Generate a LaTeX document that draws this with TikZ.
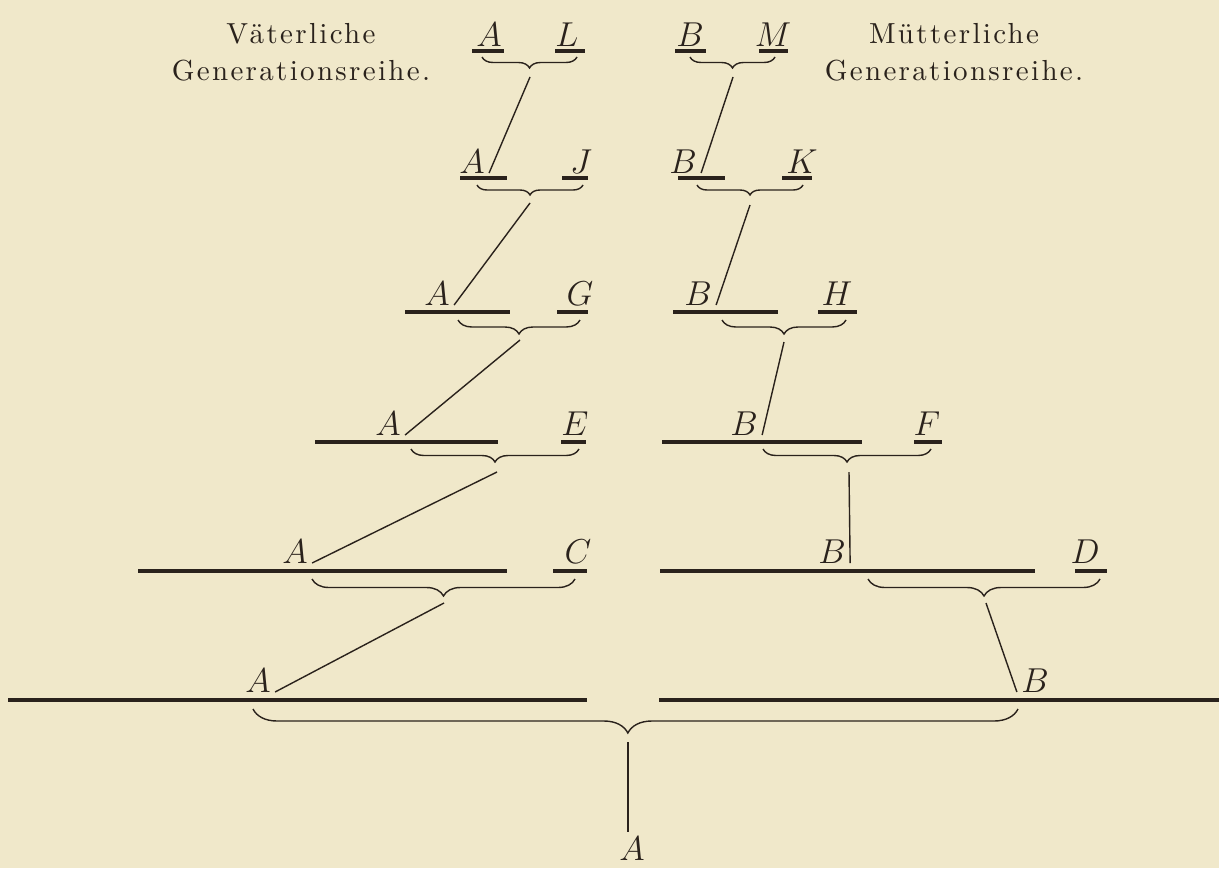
\documentclass[tikz,border=0pt]{standalone}
\usepackage{fontspec}
\usetikzlibrary{decorations.pathreplacing}
\newfontfamily\headfont[LetterSpace=8]{lmroman10-regular.otf}
\definecolor{paper}{HTML}{F0E8CA}
\definecolor{ink}{HTML}{2A221C}
\tikzset{
  letter/.style={inner sep=2pt, anchor=base, text=ink, font=\fontsize{17.5}{20}\selectfont},
  head/.style={align=center, text=ink, font=\headfont\fontsize{14.5}{18.5}\selectfont},
  bar/.style={ink, line width=2.2pt},
  brc/.style={ink, line width=0.7pt, decorate, decoration={brace, mirror, amplitude=#1}},
  link/.style={ink, line width=0.7pt}
}

\begin{document}
\begin{tikzpicture}[x=0.5pt, y=-0.5pt]
  \fill[paper] (0,0) rectangle (1219,868);
  \useasboundingbox (0,0) rectangle (1219,868);

  \node[head] (vater) at (301,52) {Väterliche\\Generationsreihe.};
  \node[head] (mutter) at (954,52) {Mütterliche\\Generationsreihe.};

  % erste Reihe
  \node[letter] (a1) at (489,46) {$A$};
  \node[letter] (l) at (567,46) {$L$};
  \node[letter] (b1) at (690,46) {$B$};
  \node[letter] (m) at (773,46) {$M$};
  \draw[bar] (472,51) -- (504,51);
  \draw[bar] (555,51) -- (585,51);
  \draw[bar] (675,51) -- (706,51);
  \draw[bar] (759,51) -- (788,51);
  \draw[brc=5.5pt] (482,57) -- (577,57);
  \draw[brc=5.5pt] (690,57) -- (775,57);
  \coordinate (ta1) at (530,77);
  \coordinate (tb1) at (733,77);

  % zweite Reihe
  \node[letter] (a2) at (472,173) {$A$};
  \node[letter] (j) at (581,173) {$J$};
  \node[letter] (b2) at (683,173) {$B$};
  \node[letter] (k) at (802,173) {$K$};
  \draw[bar] (460,178) -- (507,178);
  \draw[bar] (562,178) -- (588,178);
  \draw[bar] (678,178) -- (725,178);
  \draw[bar] (782,178) -- (812,178);
  \draw[brc=5pt] (477,185) -- (583,185);
  \draw[brc=5pt] (697,185) -- (803,185);
  \coordinate (ta2) at (530,203);
  \coordinate (tb2) at (750,205);

  % dritte Reihe
  \node[letter] (a3) at (437,305) {$A$};
  \node[letter] (g) at (580,305) {$G$};
  \node[letter] (b3) at (698,305) {$B$};
  \node[letter] (h) at (837,305) {$H$};
  \draw[bar] (405,312) -- (510,312);
  \draw[bar] (557,312) -- (588,312);
  \draw[bar] (673,312) -- (778,312);
  \draw[bar] (818,312) -- (857,312);
  \draw[brc=7pt] (458,320) -- (580,320);
  \draw[brc=7pt] (722,320) -- (846,320);
  \coordinate (ta3) at (520,340);
  \coordinate (tb3) at (784,342);

  % vierte Reihe
  \node[letter] (a4) at (388,435) {$A$};
  \node[letter] (e) at (575,435) {$E$};
  \node[letter] (b4) at (744,435) {$B$};
  \node[letter] (f) at (927,435) {$F$};
  \draw[bar] (315,442) -- (498,442);
  \draw[bar] (561,442) -- (586,442);
  \draw[bar] (662,442) -- (862,442);
  \draw[bar] (914,442) -- (942,442);
  \draw[brc=6.5pt] (411,449) -- (579,449);
  \draw[brc=6.5pt] (763,449) -- (931,449);
  \coordinate (ta4) at (497,472);
  \coordinate (tb4) at (849,472);

  % fuenfte Reihe
  \node[letter] (a5) at (295,563) {$A$};
  \node[letter] (c) at (578,563) {$C$};
  \node[letter] (b5) at (832,563) {$B$};
  \node[letter] (d) at (1085,563) {$D$};
  \draw[bar] (138,571) -- (507,571);
  \draw[bar] (553,571) -- (587,571);
  \draw[bar] (660,571) -- (1035,571);
  \draw[bar] (1075,571) -- (1107,571);
  \draw[brc=8.5pt] (312,579) -- (575,579);
  \draw[brc=8.5pt] (868,579) -- (1100,579);
  \coordinate (ta5) at (444,603);
  \coordinate (tb5) at (986,603);

  % sechste Reihe und Kind
  \node[letter] (a6) at (258,692) {$A$};
  \node[letter] (b6) at (1035,692) {$B$};
  \node[letter] (a7) at (632,860) {$A$};
  \draw[bar] (8,700) -- (587,700);
  \draw[bar] (659,700) -- (1219,700);
  \draw[ink, line width=0.7pt, decorate,
    decoration={brace, mirror, amplitude=12pt, aspect=0.49}] (253,709) -- (1018,709);
  \coordinate (t6) at (628,742);

  \draw[link] (ta1) -- (a2.base east);
  \draw[link] (tb1) -- (b2.base east);
  \draw[link] (ta2) -- (a3.base east);
  \draw[link] (tb2) -- (b3.base east);
  \draw[link] (ta3) -- (a4.base east);
  \draw[link] (tb3) -- (b4.base east);
  \draw[link] (ta4) -- (a5.base east);
  \draw[link] (tb4) -- (b5.base east);
  \draw[link] (ta5) -- (a6.base east);
  \draw[link] (tb5) -- (b6.base west);
  \draw[link] (t6) -- (t6 |- a7.north);
\end{tikzpicture}
\end{document}
